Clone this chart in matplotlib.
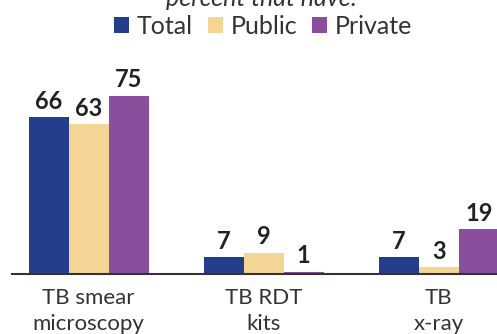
import matplotlib.pyplot as plt
import matplotlib
import numpy as np

matplotlib.rcParams['font.family'] = ['Lato', 'DejaVu Sans']

# data
categories = ['TB smear\nmicroscopy', 'TB RDT\nkits', 'TB\nx-ray']
series = ['Total', 'Public', 'Private']
total = [66, 7, 7]
public = [63, 9, 3]
private = [75, 1, 19]

colors = ['#233F8C', '#F4D595', '#8A4E9C']

fig = plt.figure(figsize=(4.97, 3.34), dpi=100)
ax = fig.add_axes([12 / 497, 60 / 334, 485 / 497, 274 / 334])

x = np.arange(len(categories)) * 4.38
w = 1.0
for i, (name, vals, c) in enumerate(zip(series, [total, public, private], colors)):
    pos = x + (i - 1) * w
    ax.bar(pos, vals, width=w, color=c, label=name, zorder=2)
    for p, v in zip(pos, vals):
        ax.annotate(str(v), (p, v), xytext=(0, 3), textcoords='offset points',
                    ha='center', va='bottom', fontsize=17, fontweight='bold',
                    color='#222222')

ax.set_xlim(-1.9125, -1.9125 + 485 / 40)
ax.set_ylim(0, 274 / 2.38)

for s in ['top', 'right', 'left']:
    ax.spines[s].set_visible(False)
ax.spines['bottom'].set_color('#333333')
ax.spines['bottom'].set_linewidth(1.5)
ax.set_yticks([])
ax.set_xticks(x)
ax.set_xticklabels(categories, fontsize=16, color='#333333', linespacing=1.4)
ax.tick_params(axis='x', length=0, pad=10)

# title partly above the top edge
fig.text(262 / 497, 1 - 6 / 334, 'percent that have:', ha='center', va='baseline',
         fontsize=18, style='italic', color='#333333')

fig.legend(loc='center', bbox_to_anchor=(263 / 497, 1 - 26 / 334), ncol=3,
           frameon=False, fontsize=18, handlelength=0.6, handleheight=0.6,
           handletextpad=0.3, columnspacing=0.6, labelcolor='#333333')

plt.savefig('out.png', dpi=100)
